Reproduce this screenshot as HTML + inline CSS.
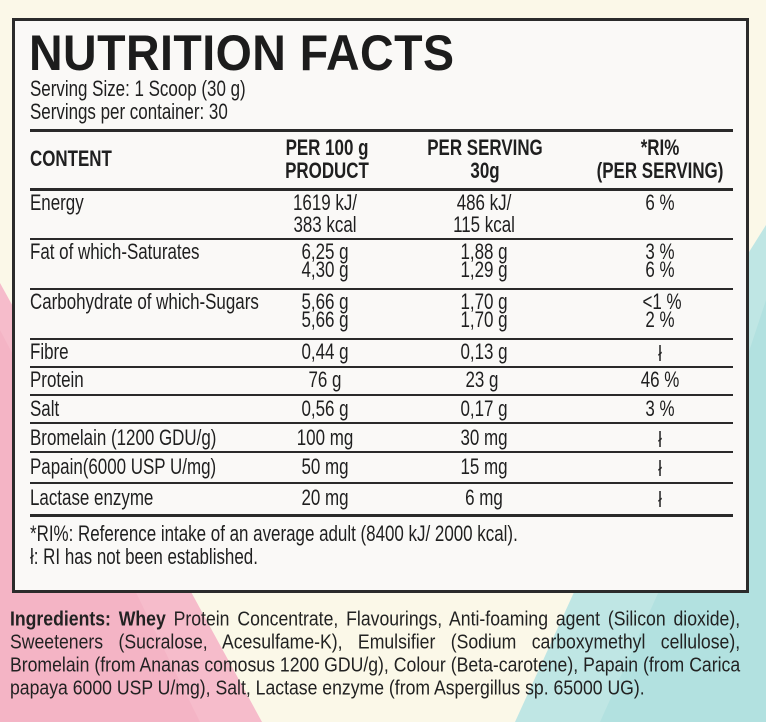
<!DOCTYPE html>
<html><head><meta charset="utf-8">
<style>
html,body{margin:0;padding:0}
body{width:766px;height:722px;position:relative;overflow:hidden;background:#fbf8e8;font-family:"Liberation Sans",sans-serif;color:#1f1f1f}
.t{position:absolute;white-space:nowrap;font-size:22px;line-height:22px;transform:translateY(-50%) scaleX(.77);transform-origin:0 50%}
.c{position:absolute;white-space:nowrap;font-size:22px;line-height:22px;transform:translate(-50%,-50%) scaleX(.77);transform-origin:50% 50%;text-align:center}
.b{font-weight:bold}
.ln{position:absolute;left:30px;width:703px;background:#2a2a2a}
#box{position:absolute;left:12px;top:18px;width:731px;height:569px;border:3px solid #2b2b2b;background:#faf9f7}
.ing{position:absolute;left:10px;width:849px;font-size:20.5px;line-height:23px;text-align:justify;text-align-last:justify;white-space:nowrap;transform:translateY(-50%) scaleX(.86);transform-origin:0 50%;color:#222}
</style></head><body>
<svg width="766" height="722" style="position:absolute;left:0;top:0">
<polygon points="0,283 0,722 262,722 190,590 120,500" fill="#f6bccb"/>
<polygon points="0,330 0,722 200,722 100,520" fill="#f4afc2" opacity=".6"/>
<polygon points="766,225 766,722 515,722 575,590 700,330" fill="#bfe6e4"/>
<polygon points="766,300 766,722 600,722 700,500" fill="#aadedd" opacity=".6"/>
</svg>
<div id="box"></div>
<div style="position:absolute;left:29px;top:28px;font-size:50px;font-weight:bold;line-height:50px;color:#1c1c1c;transform:scaleX(.93);transform-origin:0 0;letter-spacing:0.5px">NUTRITION FACTS</div>
<div class="t" style="left:30px;top:89px">Serving Size: 1 Scoop (30 g)</div>
<div class="t" style="left:30px;top:112px">Servings per container: 30</div>

<div class="ln" style="top:129px;height:3px"></div>
<div class="t b" style="left:30px;top:159px">CONTENT</div>
<div class="c b" style="left:327px;top:148px">PER 100 g</div>
<div class="c b" style="left:327px;top:171px">PRODUCT</div>
<div class="c b" style="left:485px;top:148px">PER SERVING</div>
<div class="c b" style="left:485px;top:171px">30g</div>
<div class="c b" style="left:660px;top:148px">*RI%</div>
<div class="c b" style="left:660px;top:171px">(PER SERVING)</div>
<div class="ln" style="top:188px;height:3px"></div>

<div class="t" style="left:30px;top:203px">Energy</div>
<div class="c" style="left:325px;top:203px">1619 kJ/</div>
<div class="c" style="left:325px;top:225px">383 kcal</div>
<div class="c" style="left:484px;top:203px">486 kJ/</div>
<div class="c" style="left:484px;top:225px">115 kcal</div>
<div class="c" style="left:660px;top:203px">6 %</div>
<div class="ln" style="top:238px;height:2px"></div>

<div class="t" style="left:30px;top:252px">Fat of which-Saturates</div>
<div class="c" style="left:325px;top:252px">6,25 g</div>
<div class="c" style="left:325px;top:270px">4,30 g</div>
<div class="c" style="left:484px;top:252px">1,88 g</div>
<div class="c" style="left:484px;top:270px">1,29 g</div>
<div class="c" style="left:660px;top:252px">3 %</div>
<div class="c" style="left:660px;top:270px">6 %</div>
<div class="ln" style="top:288px;height:2px"></div>

<div class="t" style="left:30px;top:302px">Carbohydrate of which-Sugars</div>
<div class="c" style="left:325px;top:302px">5,66 g</div>
<div class="c" style="left:325px;top:320px">5,66 g</div>
<div class="c" style="left:484px;top:302px">1,70 g</div>
<div class="c" style="left:484px;top:320px">1,70 g</div>
<div class="c" style="left:662px;top:302px">&lt;1 %</div>
<div class="c" style="left:660px;top:320px">2 %</div>
<div class="ln" style="top:338px;height:2px"></div>

<div class="t" style="left:30px;top:352px">Fibre</div>
<div class="c" style="left:325px;top:352px">0,44 g</div>
<div class="c" style="left:484px;top:352px">0,13 g</div>
<div class="c" style="left:660px;top:354px">ł</div>
<div class="ln" style="top:366px;height:2px"></div>

<div class="t" style="left:30px;top:380px">Protein</div>
<div class="c" style="left:325px;top:380px">76 g</div>
<div class="c" style="left:482px;top:380px">23 g</div>
<div class="c" style="left:660px;top:380px">46 %</div>
<div class="ln" style="top:394px;height:2px"></div>

<div class="t" style="left:30px;top:409px">Salt</div>
<div class="c" style="left:325px;top:409px">0,56 g</div>
<div class="c" style="left:484px;top:409px">0,17 g</div>
<div class="c" style="left:660px;top:409px">3 %</div>
<div class="ln" style="top:422px;height:2px"></div>

<div class="t" style="left:30px;top:438px">Bromelain (1200 GDU/g)</div>
<div class="c" style="left:325px;top:438px">100 mg</div>
<div class="c" style="left:484px;top:438px">30 mg</div>
<div class="c" style="left:660px;top:440px">ł</div>
<div class="ln" style="top:451px;height:2px"></div>

<div class="t" style="left:30px;top:467px">Papain(6000 USP U/mg)</div>
<div class="c" style="left:325px;top:467px">50 mg</div>
<div class="c" style="left:484px;top:467px">15 mg</div>
<div class="c" style="left:660px;top:469px">ł</div>
<div class="ln" style="top:482px;height:2px"></div>

<div class="t" style="left:30px;top:498px">Lactase enzyme</div>
<div class="c" style="left:325px;top:498px">20 mg</div>
<div class="c" style="left:484px;top:498px">6 mg</div>
<div class="c" style="left:660px;top:500px">ł</div>
<div class="ln" style="top:514px;height:3px"></div>

<div class="t" style="left:30px;top:534px">*RI%: Reference intake of an average adult (8400 kJ/ 2000 kcal).</div>
<div class="t" style="left:30px;top:557px">ł: RI has not been established.</div>

<div class="ing" style="top:619px"><b>Ingredients: Whey</b> Protein Concentrate, Flavourings, Anti-foaming agent (Silicon dioxide),</div>
<div class="ing" style="top:642px">Sweeteners (Sucralose, Acesulfame-K), Emulsifier (Sodium carboxymethyl cellulose),</div>
<div class="ing" style="top:665px">Bromelain (from Ananas comosus 1200 GDU/g), Colour (Beta-carotene), Papain (from Carica</div>
<div class="ing" style="top:688px;text-align-last:left;width:auto">papaya 6000 USP U/mg), Salt, Lactase enzyme (from Aspergillus sp. 65000 UG).</div>
</body></html>
